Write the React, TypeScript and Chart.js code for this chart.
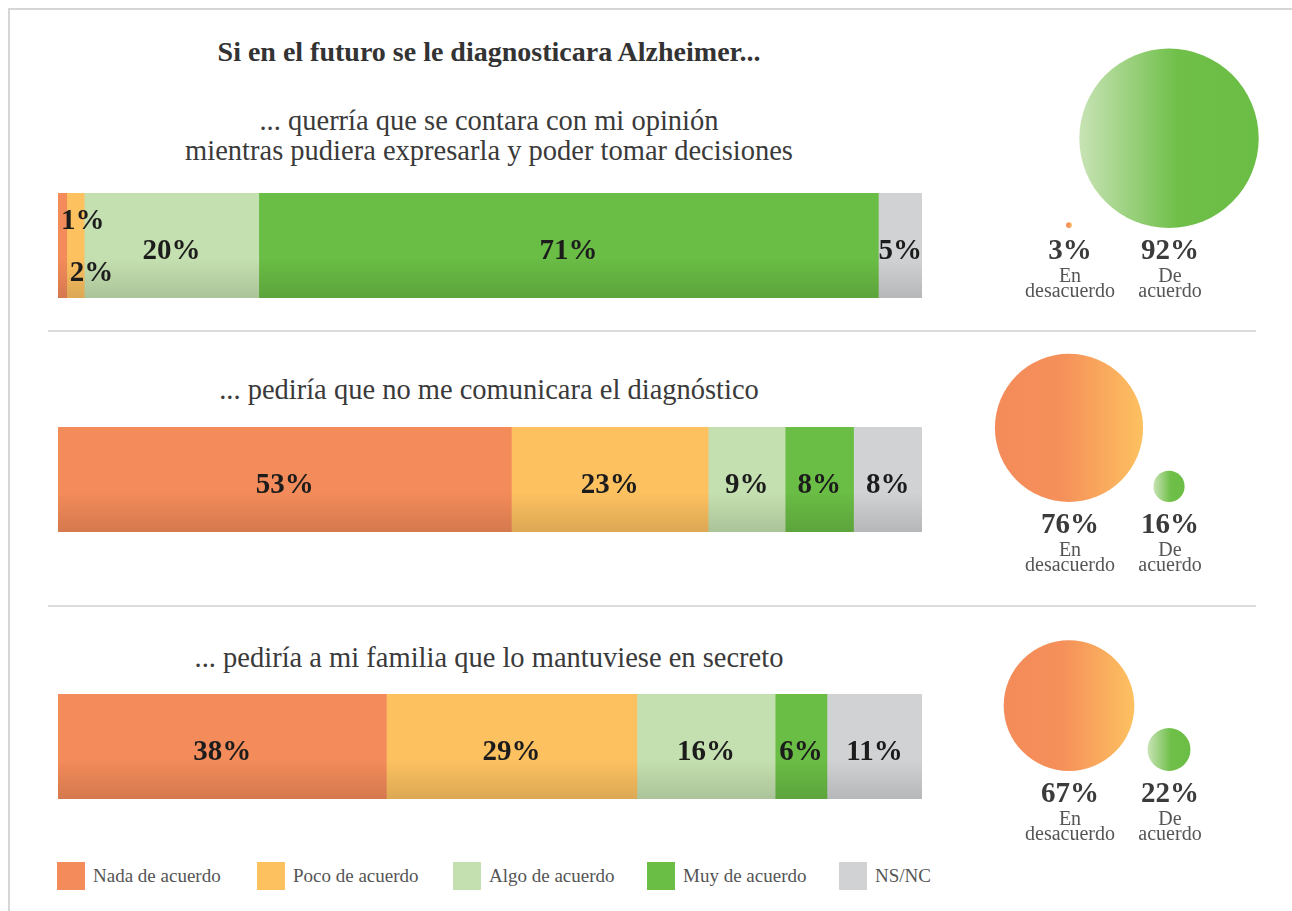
import React, { useEffect, useRef } from 'react';
import { Chart, registerables } from 'chart.js';

Chart.register(...registerables);

const SERIF = "'Liberation Serif', 'DejaVu Serif', serif";

// ---------- data ----------
const categories = ['Nada de acuerdo', 'Poco de acuerdo', 'Algo de acuerdo', 'Muy de acuerdo', 'NS/NC'];
const palette = ['#f48b5a', '#fdc160', '#c5e0b0', '#6abd45', '#d1d2d4'];

const mainTitle = 'Si en el futuro se le diagnosticara Alzheimer...';
const questions = [
  ['... querría que se contara con mi opinión', 'mientras pudiera expresarla y poder tomar decisiones'],
  ['... pediría que no me comunicara el diagnóstico'],
  ['... pediría a mi familia que lo mantuviese en secreto'],
];

const answersQ1 = [1, 2, 20, 71, 5];
const answersQ2 = [53, 23, 9, 8, 8];
const answersQ3 = [38, 29, 16, 6, 11];

const disagreeTotals = [3, 76, 67];
const agreeTotals = [92, 16, 22];
const bubbleCaptions = [
  ['En', 'desacuerdo'],
  ['De', 'acuerdo'],
];

// ---------- layout ----------
const BAR_LEFT = 58;
const BAR_WIDTH = 864;
const BAR_HEIGHT = 105;
const rows = [
  { answers: answersQ1, barTop: 193, qTop: 106, bubbleBase: 228 },
  { answers: answersQ2, barTop: 427, qTop: 375, bubbleBase: 502 },
  { answers: answersQ3, barTop: 694, qTop: 643, bubbleBase: 771 },
];
const PX_PER_POINT = 0.975; // bubble radius (px) per percentage point

function darken(hex: string, f: number) {
  const n = parseInt(hex.slice(1), 16);
  const r = Math.round(((n >> 16) & 255) * f);
  const g = Math.round(((n >> 8) & 255) * f);
  const b = Math.round((n & 255) * f);
  return `rgb(${r},${g},${b})`;
}

const barLabelPlugin = {
  id: 'barLabels',
  afterDatasetsDraw(chart: any) {
    const ctx = chart.ctx;
    ctx.save();
    ctx.font = `bold 29px ${SERIF}`;
    ctx.fillStyle = '#1c1c1c';
    ctx.textBaseline = 'alphabetic';
    let small = 0;
    chart.data.datasets.forEach((ds: any, i: number) => {
      const el: any = chart.getDatasetMeta(i).data[0];
      if (!el) return;
      const left = Math.min(el.x, el.base);
      const right = Math.max(el.x, el.base);
      const w = right - left;
      const label = ds.data[0] + '%';
      if (w < 30) {
        ctx.textAlign = 'left';
        const dy = small % 2 === 0 ? -27 : 25;
        ctx.fillText(label, left + 3, el.y + dy + 10);
        small++;
      } else {
        ctx.textAlign = 'center';
        ctx.fillText(label, (left + right) / 2, el.y + 13);
      }
    });
    ctx.restore();
  },
};

function StackedBar({ answers, top }: { answers: number[]; top: number }) {
  const ref = useRef<HTMLCanvasElement>(null);
  useEffect(() => {
    const total = answers.reduce((a, b) => a + b, 0);
    const chart = new Chart(ref.current as HTMLCanvasElement, {
      type: 'bar',
      data: {
        labels: [''],
        datasets: categories.map((c, i) => ({
          label: c,
          data: [answers[i]],
          backgroundColor: (ctx: any) => {
            const area = ctx.chart.chartArea;
            if (!area || !isFinite(area.top) || !isFinite(area.bottom) || area.bottom <= area.top) return palette[i];
            const g = ctx.chart.ctx.createLinearGradient(0, area.top, 0, area.bottom);
            g.addColorStop(0, palette[i]);
            g.addColorStop(0.62, palette[i]);
            g.addColorStop(1, darken(palette[i], 0.87));
            return g;
          },
          borderWidth: 0,
          barPercentage: 1,
          categoryPercentage: 1,
        })),
      },
      options: {
        indexAxis: 'y',
        responsive: false,
        animation: false,
        devicePixelRatio: 1,
        events: [],
        layout: { padding: 0, autoPadding: false },
        plugins: { legend: { display: false }, tooltip: { enabled: false } },
        scales: {
          x: { stacked: true, display: false, min: 0, max: total },
          y: { stacked: true, display: false },
        },
      } as any,
      plugins: [barLabelPlugin],
    });
    return () => chart.destroy();
  }, []);
  return (
    <canvas
      ref={ref}
      width={BAR_WIDTH}
      height={BAR_HEIGHT}
      style={{ position: 'absolute', left: BAR_LEFT, top, width: BAR_WIDTH, height: BAR_HEIGHT, display: 'block' }}
    />
  );
}

const BUBBLE_LEFT = 990;
const BUBBLE_W = 280;
const BUBBLE_ABOVE = 200;
const BUBBLE_BELOW = 90;

function bubbleFill(ctx: any) {
  const raw = ctx.raw;
  if (ctx.type !== 'data' || !raw) return '#f48b5a';
  const solid = raw.kind === 0 ? '#f7a05c' : '#6abd45';
  const chart = ctx.chart;
  const sx = chart.scales && chart.scales.x;
  if (!sx) return solid;
  const cx = sx.getPixelForValue(raw.x);
  const r = Math.max(raw.r, 1);
  if (!isFinite(cx) || !isFinite(r)) return solid;
  const g = chart.ctx.createLinearGradient(cx - r, 0, cx + r, 0);
  if (raw.kind === 0) {
    g.addColorStop(0, '#f48b5a');
    g.addColorStop(0.45, '#f5905a');
    g.addColorStop(1, '#fdc160');
  } else {
    g.addColorStop(0, '#c8e3b5');
    g.addColorStop(0.55, '#6fbf49');
    g.addColorStop(1, '#6abd45');
  }
  return g;
}

const bubbleLabelPlugin = {
  id: 'bubbleLabels',
  afterDatasetsDraw(chart: any) {
    const ctx = chart.ctx;
    const base = chart.scales.y.getPixelForValue(0);
    ctx.save();
    ctx.textAlign = 'center';
    ctx.textBaseline = 'alphabetic';
    chart.data.datasets[0].data.forEach((p: any) => {
      const x = chart.scales.x.getPixelForValue(p.x) + 1;
      ctx.font = `bold 29px ${SERIF}`;
      ctx.fillStyle = '#3b3b3b';
      ctx.fillText(p.v + '%', x, base + 31);
      ctx.font = `20px ${SERIF}`;
      ctx.fillStyle = '#555555';
      ctx.fillText(p.cap[0], x, base + 54);
      ctx.fillText(p.cap[1], x, base + 69);
    });
    ctx.restore();
  },
};

function BubblePair({ disagree, agree, base }: { disagree: number; agree: number; base: number }) {
  const ref = useRef<HTMLCanvasElement>(null);
  useEffect(() => {
    const chart = new Chart(ref.current as HTMLCanvasElement, {
      type: 'bubble',
      data: {
        datasets: [
          {
            data: [
              { x: 0, y: disagree * PX_PER_POINT, r: disagree * PX_PER_POINT, v: disagree, cap: bubbleCaptions[0], kind: 0 },
              { x: 1, y: agree * PX_PER_POINT, r: agree * PX_PER_POINT, v: agree, cap: bubbleCaptions[1], kind: 1 },
            ] as any,
            backgroundColor: bubbleFill,
            borderWidth: 0,
            hoverBorderWidth: 0,
            hoverRadius: 0,
            clip: false,
          } as any,
        ],
      },
      options: {
        responsive: false,
        animation: false,
        devicePixelRatio: 1,
        events: [],
        layout: { padding: 0, autoPadding: false },
        plugins: { legend: { display: false }, tooltip: { enabled: false } },
        scales: {
          x: { type: 'linear', display: false, min: -0.79, max: 2.01 },
          y: { type: 'linear', display: false, min: -BUBBLE_BELOW, max: BUBBLE_ABOVE },
        },
      } as any,
      plugins: [bubbleLabelPlugin],
    });
    return () => chart.destroy();
  }, []);
  const h = BUBBLE_ABOVE + BUBBLE_BELOW;
  return (
    <canvas
      ref={ref}
      width={BUBBLE_W}
      height={h}
      style={{ position: 'absolute', left: BUBBLE_LEFT, top: base - BUBBLE_ABOVE, width: BUBBLE_W, height: h, display: 'block' }}
    />
  );
}

const legendLefts = [57, 257, 453, 647, 839];

export default function App() {
  return (
    <div
      style={{
        position: 'absolute',
        left: 0,
        top: 0,
        width: 1292,
        height: 911,
        background: '#ffffff',
        fontFamily: SERIF,
        overflow: 'hidden',
      }}
    >
      <div
        style={{
          position: 'absolute',
          left: 8,
          top: 8,
          width: 1290,
          height: 910,
          borderTop: '2px solid #d6d6d6',
          borderLeft: '2px solid #d6d6d6',
        }}
      />
      <div
        style={{
          position: 'absolute',
          left: 0,
          top: 37,
          width: 978,
          textAlign: 'center',
          fontWeight: 'bold',
          fontSize: 28,
          lineHeight: '30px',
          color: '#333333',
        }}
      >
        {mainTitle}
      </div>
      {rows.map((row, i) => (
        <div
          key={'q' + i}
          style={{
            position: 'absolute',
            left: 0,
            top: row.qTop,
            width: 978,
            textAlign: 'center',
            fontSize: 28.5,
            lineHeight: '30px',
            color: '#3a3a3a',
          }}
        >
          {questions[i].map((l, j) => (
            <div key={j}>{l}</div>
          ))}
        </div>
      ))}
      {[330, 605].map((y) => (
        <div key={y} style={{ position: 'absolute', left: 48, top: y, width: 1208, height: 2, background: '#dcdcdc' }} />
      ))}
      {rows.map((row, i) => (
        <StackedBar key={'b' + i} answers={row.answers} top={row.barTop} />
      ))}
      {rows.map((row, i) => (
        <BubblePair key={'p' + i} disagree={disagreeTotals[i]} agree={agreeTotals[i]} base={row.bubbleBase} />
      ))}
      {categories.map((c, i) => (
        <div key={c} style={{ position: 'absolute', left: legendLefts[i], top: 862, height: 28, display: 'flex', alignItems: 'center' }}>
          <div style={{ width: 28, height: 28, background: palette[i] }} />
          <div style={{ marginLeft: 8, fontSize: 19, color: '#555555', lineHeight: '28px' }}>{c}</div>
        </div>
      ))}
    </div>
  );
}
